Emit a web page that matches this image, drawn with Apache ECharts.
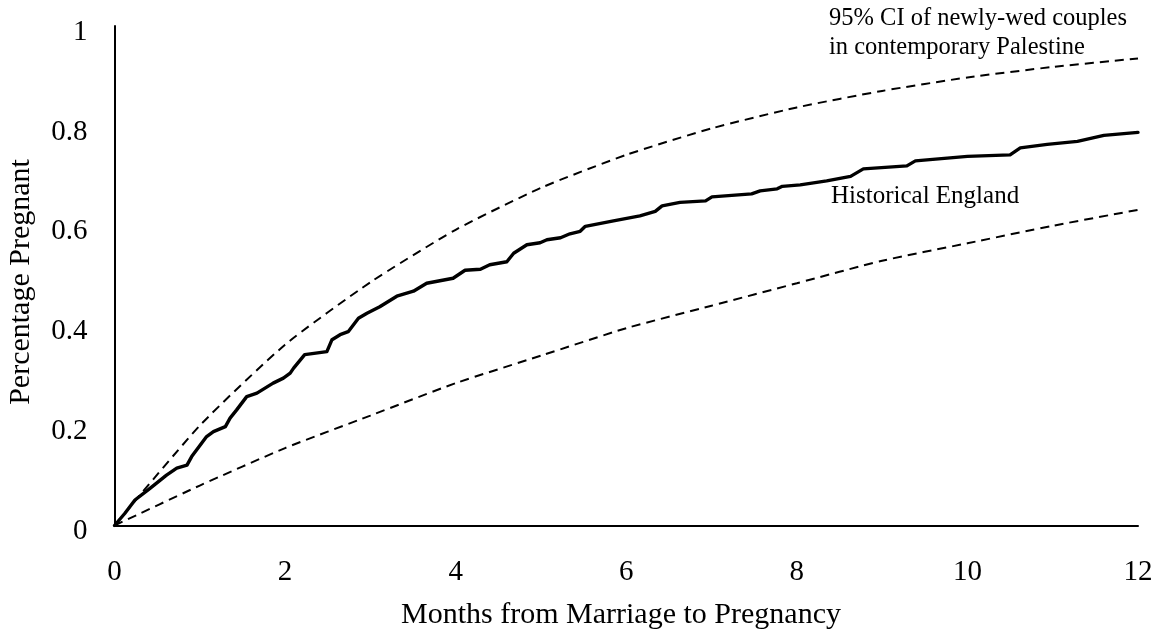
<!DOCTYPE html>
<html>
<head>
<meta charset="utf-8">
<script src="https://cdn.jsdelivr.net/npm/echarts@6/dist/echarts.min.js"></script>
<style>
html,body{margin:0;padding:0;background:#fff;}
#chart{width:1158px;height:639px;}
</style>
</head>
<body>
<div id="chart"></div>
<script>
// Historical England
const englandMonths = [0,0.12,0.24,0.42,0.61,0.73,0.85,0.905,1.08,1.16,1.30,1.355,1.43,1.55,1.67,1.86,1.98,2.06,2.10,2.23,2.49,2.55,2.645,2.74,2.86,2.96,3.11,3.31,3.505,3.66,3.97,4.11,4.29,4.40,4.60,4.68,4.835,4.99,5.07,5.23,5.34,5.46,5.52,5.85,6.16,6.34,6.42,6.63,6.93,7.005,7.47,7.57,7.77,7.83,8.04,8.35,8.63,8.78,9.29,9.39,10.0,10.50,10.62,10.935,11.29,11.60,12.0];
const englandValues = [0,0.024,0.051,0.075,0.101,0.115,0.121,0.138,0.178,0.188,0.198,0.215,0.231,0.258,0.265,0.285,0.295,0.305,0.315,0.342,0.348,0.372,0.382,0.388,0.415,0.425,0.438,0.459,0.469,0.485,0.495,0.511,0.513,0.522,0.528,0.545,0.562,0.566,0.572,0.576,0.584,0.589,0.599,0.610,0.620,0.629,0.640,0.647,0.650,0.658,0.664,0.670,0.674,0.679,0.682,0.690,0.699,0.714,0.720,0.730,0.739,0.742,0.756,0.763,0.769,0.781,0.787];

// 95% CI bounds (contemporary Palestine)
const ciMonths = [0,1,2,3,4,5,6,7,8,9,10,11,12];
const ciUpper = [0,0.200,0.362,0.487,0.592,0.676,0.742,0.795,0.837,0.870,0.897,0.918,0.935];
const ciLower = [0,0.080,0.155,0.220,0.285,0.340,0.395,0.440,0.485,0.530,0.565,0.600,0.632];

const xTickLabels = ['0','2','4','6','8','10','12'];
const yTickLabels = ['0','0.2','0.4','0.6','0.8','1'];

const xTitle = 'Months from Marriage to Pregnancy';
const yTitle = 'Percentage Pregnant';
const englandLabel = 'Historical England';
const ciLabel = '95% CI of newly-wed couples\nin contemporary Palestine';

const FONT = '"Liberation Serif", "DejaVu Serif", serif';

const chart = echarts.init(document.getElementById('chart'), null, {renderer: 'canvas'});

const pairs = (xs, ys) => xs.map((x, i) => [x, ys[i]]);

chart.setOption({
  animation: false,
  backgroundColor: '#fff',
  grid: {left: 114.5, right: 20, top: 26, bottom: 113.5, containLabel: false},
  xAxis: {
    type: 'value', min: 0, max: 12, interval: 2,
    axisLine: {show: true, onZero: false, lineStyle: {color: '#000', width: 2}},
    axisTick: {show: false},
    splitLine: {show: false},
    axisLabel: {
      color: '#000', fontFamily: FONT, fontSize: 29, margin: 32,
      formatter: v => xTickLabels[Math.round(v / 2)]
    }
  },
  yAxis: {
    type: 'value', min: 0, max: 1, interval: 0.2,
    axisLine: {show: true, onZero: false, lineStyle: {color: '#000', width: 2}},
    axisTick: {show: false},
    splitLine: {show: false},
    axisLabel: {
      color: '#000', fontFamily: FONT, fontSize: 29, margin: 27,
      formatter: v => '{t|' + yTickLabels[Math.round(v / 0.2)] + '}',
      rich: {
        t: {color: '#000', fontFamily: FONT, fontSize: 29, padding: [12, 0, 0, 0]}
      }
    }
  },
  series: [
    {
      name: 'CI upper', type: 'line', data: pairs(ciMonths, ciUpper),
      smooth: 0.2, showSymbol: false, symbol: 'none',
      lineStyle: {color: '#000', width: 2, type: [9, 6]}, z: 2
    },
    {
      name: 'CI lower', type: 'line', data: pairs(ciMonths, ciLower),
      smooth: 0.2, showSymbol: false, symbol: 'none',
      lineStyle: {color: '#000', width: 2, type: [9, 6]}, z: 2
    },
    {
      name: englandLabel, type: 'line', data: pairs(englandMonths, englandValues),
      smooth: false, showSymbol: false, symbol: 'none',
      lineStyle: {color: '#000', width: 3.4, join: 'round', cap: 'round'}, z: 3
    }
  ],
  graphic: [
    {
      type: 'text', left: 831, top: 184,
      style: {text: englandLabel, fill: '#000', font: '25px ' + FONT}
    },
    {
      type: 'text', left: 829, top: 4,
      style: {text: ciLabel, fill: '#000', font: '24.5px ' + FONT, lineHeight: 29}
    },
    {
      type: 'text', x: 621, y: 615,
      style: {text: xTitle, fill: '#000', font: '30px ' + FONT, align: 'center', verticalAlign: 'middle'}
    },
    {
      type: 'text', x: 21, y: 282, rotation: Math.PI / 2,
      style: {text: yTitle, fill: '#000', font: '30px ' + FONT, align: 'center', verticalAlign: 'middle'}
    }
  ]
});
</script>
</body>
</html>
